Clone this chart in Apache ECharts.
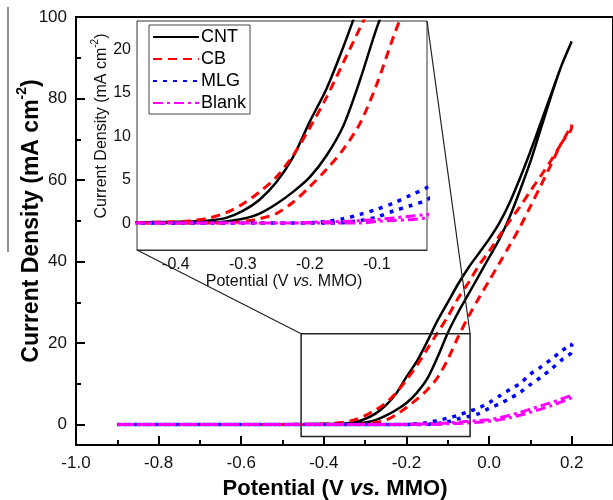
<!DOCTYPE html>
<html>
<head>
<meta charset="utf-8">
<script src="https://cdn.jsdelivr.net/npm/echarts@6/dist/echarts.min.js"></script>
<style>
  html, body { margin: 0; padding: 0; background: #fff; }
  #chart { width: 613px; height: 500px; }
</style>
</head>
<body>
<div id="chart"></div>
<script>
// potential (V vs. MMO), shared by every branch
var potential = [-0.9, -0.8, -0.7, -0.6, -0.5, -0.45, -0.4, -0.375, -0.35, -0.325, -0.3, -0.275, -0.25, -0.225, -0.2,
  -0.175, -0.15, -0.125, -0.1, -0.075, -0.05, -0.025, 0, 0.025, 0.05, 0.075, 0.1, 0.125, 0.15, 0.175, 0.2];

// current density (mA cm-2), forward and return branch of each scan
var cntFwd = [0, 0, 0, 0, 0, 0, 0, 0, 0.05, 0.2, 0.5, 1.1, 2.2, 3.6, 5.3, 7.8, 11.2, 16.5, 22.5, 27.5, 32, 36.5, 41, 45.5, 51, 57.5, 64.5, 72.5, 80.5, 88, 94];
var cntRev = [0, 0, 0, 0, 0.05, 0.1, 0.15, 0.2, 0.3, 0.6, 1.4, 2.7, 4.7, 7.6, 11.7, 15.5, 20.3, 25.5, 30, 34.5, 38.5, 42, 45.5, 49.5, 54.5, 60.5, 67, 74, 81, 88, 94];
var cbFwd = [0, 0, 0, 0, 0, 0, 0, 0, 0, 0.05, 0.2, 0.5, 1.1, 2.4, 4.2, 6.2, 8.5, 11.5, 16, 21.5, 26.5, 31, 35.3, 39.6, 44, 48.5, 53.5, 58.6, 63.8, 69, 73];
var cbRev = [0, 0, 0, 0, 0.05, 0.08, 0.15, 0.3, 0.6, 1.2, 2.2, 3.6, 5.3, 7.8, 11, 14.5, 18.5, 22.5, 26.5, 31, 34.8, 39, 42.5, 46.3, 50, 53.5, 57.3, 61, 64.8, 69, 73.5];
var mlgFwd = [0, 0, 0, 0, 0, 0, 0, 0, 0, 0, 0, 0, 0, 0, 0, 0, 0.05, 0.3, 0.7, 1.4, 2.0, 2.7, 4.0, 5.1, 6.4, 7.9, 9.8, 11.6, 13.6, 15.8, 18];
var mlgRev = [0, 0, 0, 0, 0, 0, 0, 0, 0, 0, 0, 0, 0, 0, 0.05, 0.2, 0.5, 1.0, 1.6, 2.3, 3.2, 4.1, 5.4, 7.0, 8.6, 10.1, 12.4, 14.1, 16, 18, 19.8];
var blankFwd = [0, 0, 0, 0, 0, 0, 0, 0, 0, 0, 0, 0, 0, 0, 0, 0, 0, 0, 0.2, 0.3, 0.4, 0.6, 0.8, 1.2, 1.7, 2.3, 3.0, 3.8, 4.6, 5.6, 6.8];
var blankRev = [0, 0, 0, 0, 0, 0, 0, 0, 0, 0, 0, 0, 0, 0, 0.1, 0.15, 0.2, 0.3, 0.4, 0.6, 0.8, 1.0, 1.2, 1.7, 2.3, 3.0, 3.8, 4.6, 5.4, 6.3, 7.2];

var legendNames = ['CNT', 'CB', 'MLG', 'Blank'];

// tick positions
var mainXLabels = [-1.0, -0.8, -0.6, -0.4, -0.2, 0, 0.2];
var mainXMinor = [-0.9, -0.7, -0.5, -0.3, -0.1, 0.1];
var mainYLabels = [0, 20, 40, 60, 80, 100];
var mainYMinor = [10, 30, 50, 70, 90];
var insetXTicks = [-0.45, -0.4, -0.35, -0.3, -0.25, -0.2, -0.15, -0.1, -0.05];
var insetXLabels = [-0.4, -0.3, -0.2, -0.1];
var insetYTicks = [-2.5, 0, 2.5, 5, 7.5, 10, 12.5, 15, 17.5, 20, 22.5];
var insetYLabels = [0, 5, 10, 15, 20];

// axis ranges, and the zoom box drawn on the main plot
var mainX = [-1.0, 0.3], mainY = [-5, 100];
var insetX = [-0.458, -0.025], insetY = [-3.1, 23.3];
var boxX = [-0.455, -0.046], boxY = [-2.9, 22.3];

var FONT = 'Liberation Sans, Arial, sans-serif';

function loop(fwd, rev) {
  var pts = potential.map(function (x, i) { return [x, fwd[i]]; });
  for (var i = potential.length - 1; i >= 0; i--) pts.push([potential[i], rev[i]]);
  return pts;
}

var looks = [
  { name: 'CNT', fwd: cntFwd, rev: cntRev, color: '#000000', type: 'solid', width: 2.5 },
  { name: 'CB', fwd: cbFwd, rev: cbRev, color: '#ff0000', type: [9, 6], width: 3 },
  { name: 'MLG', fwd: mlgFwd, rev: mlgRev, color: '#0000ff', type: [4, 6], width: 3.5 },
  { name: 'Blank', fwd: blankFwd, rev: blankRev, color: '#ff00ff', type: [10, 4, 3, 4], width: 3 }
];

var series = [];
[0, 1].forEach(function (g) {
  looks.forEach(function (s) {
    series.push({
      name: s.name,
      type: 'line',
      xAxisIndex: g,
      yAxisIndex: g,
      data: loop(s.fwd, s.rev),
      symbol: 'none',
      smooth: 0.3,
      clip: true,
      color: s.color,
      lineStyle: { color: s.color, type: s.type, width: s.width },
      z: 3
    });
  });
});

function fmt1(v) { return Number(v).toFixed(1); }

var chart = echarts.init(document.getElementById('chart'));
chart.setOption({
  animation: false,
  backgroundColor: '#fff',
  grid: [
    { left: 76, top: 17, width: 540, height: 428, show: true, borderColor: '#000', borderWidth: 2, backgroundColor: 'transparent' },
    { left: 137, top: 21, width: 290, height: 229, show: true, borderColor: '#333', borderWidth: 1, backgroundColor: '#fff', z: 1 },
    { left: 76, top: 17, width: 540, height: 428 }
  ],
  legend: {
    data: legendNames,
    orient: 'vertical',
    left: 149,
    top: 25,
    padding: [3, 4, 2, 3],
    itemWidth: 46,
    itemHeight: 14,
    itemGap: 4,
    borderColor: '#444',
    borderWidth: 1,
    backgroundColor: '#fff',
    selectedMode: false,
    itemStyle: { opacity: 0 },
    textStyle: { fontSize: 18, color: '#000', fontFamily: FONT, padding: [0, 0, 0, -3] },
    z: 5
  },
  xAxis: [
    {
      type: 'value', gridIndex: 0, min: mainX[0], max: mainX[1],
      axisLine: { onZero: false, lineStyle: { color: '#000', width: 2 } },
      axisTick: { inside: true, length: 9, customValues: mainXLabels, lineStyle: { width: 2 } },
      axisLabel: { customValues: mainXLabels, formatter: fmt1, fontSize: 17, color: '#111', fontFamily: FONT, margin: 10 },
      splitLine: { show: false }
    },
    {
      type: 'value', gridIndex: 1, min: insetX[0], max: insetX[1],
      axisLine: { onZero: false, lineStyle: { color: '#333', width: 1 } },
      axisTick: { inside: true, length: 5, customValues: insetXTicks, lineStyle: { width: 1 } },
      axisLabel: { customValues: insetXLabels, formatter: fmt1, fontSize: 16, color: '#111', fontFamily: FONT, margin: 7 },
      splitLine: { show: false }
    },
    {
      type: 'value', gridIndex: 2, min: mainX[0], max: mainX[1],
      axisLine: { show: false, onZero: false },
      axisTick: { inside: true, length: 5, customValues: mainXMinor, lineStyle: { width: 2, color: '#000' } },
      axisLabel: { show: false },
      splitLine: { show: false }
    }
  ],
  yAxis: [
    {
      type: 'value', gridIndex: 0, min: mainY[0], max: mainY[1],
      axisLine: { show: true, onZero: false, lineStyle: { color: '#000', width: 2 } },
      axisTick: { show: true, inside: true, length: 9, customValues: mainYLabels, lineStyle: { width: 2 } },
      axisLabel: { customValues: mainYLabels, fontSize: 17, color: '#111', fontFamily: FONT, margin: 9 },
      splitLine: { show: false }
    },
    {
      type: 'value', gridIndex: 1, min: insetY[0], max: insetY[1],
      axisLine: { show: true, onZero: false, lineStyle: { color: '#333', width: 1 } },
      axisTick: { show: true, inside: true, length: 4, customValues: insetYTicks, lineStyle: { width: 1 } },
      axisLabel: { customValues: insetYLabels, fontSize: 16, color: '#111', fontFamily: FONT, margin: 6 },
      splitLine: { show: false }
    },
    {
      type: 'value', gridIndex: 2, min: mainY[0], max: mainY[1],
      axisLine: { show: false, onZero: false },
      axisTick: { show: true, inside: true, length: 5, customValues: mainYMinor, lineStyle: { width: 2, color: '#000' } },
      axisLabel: { show: false },
      splitLine: { show: false }
    }
  ],
  series: series
});

// zoom box, connector lines and axis titles
function px(g, x, y) { return chart.convertToPixel({ xAxisIndex: g, yAxisIndex: g }, [x, y]); }
var bTL = px(0, boxX[0], boxY[1]);
var bBR = px(0, boxX[1], boxY[0]);
var iTR = px(1, insetX[1], insetY[1]);
var iBL = px(1, insetX[0], insetY[0]);

function richSet(size, supSize, weight, color) {
  var lh = Math.round(size * 1.2);
  return {
    b: { fontSize: size, fontWeight: weight, fontFamily: FONT, lineHeight: lh, fill: color, verticalAlign: 'bottom' },
    bi: { fontSize: size, fontWeight: weight, fontStyle: 'italic', fontFamily: FONT, lineHeight: lh, fill: color, verticalAlign: 'bottom' },
    s: { fontSize: supSize, fontWeight: weight, fontFamily: FONT, lineHeight: lh, fill: color, verticalAlign: 'top' }
  };
}
var xTitleRich = richSet(22, 13, 'bold', '#000');
var yTitleRich = richSet(23, 14, 'bold', '#000');
var insetRich = richSet(16, 10, 'normal', '#111');

chart.setOption({
  graphic: [
    { type: 'rect', silent: true, z: 10,
      shape: { x: bTL[0], y: bTL[1], width: bBR[0] - bTL[0], height: bBR[1] - bTL[1] },
      style: { fill: 'none', stroke: '#222', lineWidth: 1.5 } },
    { type: 'line', silent: true, z: 10,
      shape: { x1: iTR[0], y1: iTR[1], x2: bBR[0], y2: bTL[1] },
      style: { stroke: '#222', lineWidth: 1.2 } },
    { type: 'line', silent: true, z: 10,
      shape: { x1: iBL[0], y1: iBL[1], x2: bTL[0], y2: bTL[1] },
      style: { stroke: '#222', lineWidth: 1.2 } },
    { type: 'line', silent: true, z: 10,
      shape: { x1: 8, y1: 7, x2: 8, y2: 252 },
      style: { stroke: '#222', lineWidth: 1 } },
    { type: 'text', silent: true, z: 10, x: 335, y: 487,
      style: { text: '{b|Potential (V }{bi|vs.}{b| MMO)}', rich: xTitleRich, align: 'center', verticalAlign: 'middle' } },
    { type: 'text', silent: true, z: 10, x: 29, y: 221, rotation: Math.PI / 2,
      style: { text: '{b|Current Density (mA cm}{s|-2}{b|)}', rich: yTitleRich, align: 'center', verticalAlign: 'middle' } },
    { type: 'text', silent: true, z: 10, x: 284, y: 280,
      style: { text: '{b|Potential (V }{bi|vs.}{b| MMO)}', rich: insetRich, align: 'center', verticalAlign: 'middle' } },
    { type: 'text', silent: true, z: 10, x: 100, y: 126, rotation: Math.PI / 2,
      style: { text: '{b|Current Density (mA cm}{s|-2}{b|)}', rich: insetRich, align: 'center', verticalAlign: 'middle' } }
  ]
});
</script>
</body>
</html>
